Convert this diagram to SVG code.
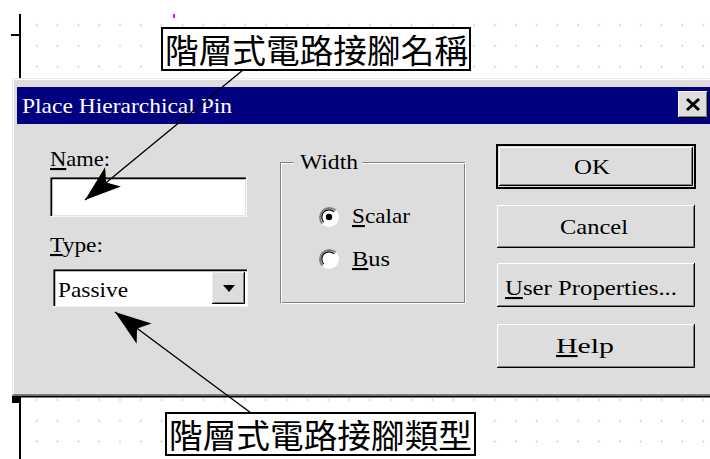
<svg xmlns="http://www.w3.org/2000/svg" width="710" height="459" viewBox="0 0 710 459">
<defs>
<pattern id="dots" x="26.28" y="14.6" width="20.83" height="20.83" patternUnits="userSpaceOnUse">
<rect x="9.65" y="9.65" width="1.5" height="1.5" fill="#b8b8b8"/>
</pattern>
<marker id="ah" markerUnits="userSpaceOnUse" markerWidth="40" markerHeight="30" refX="0" refY="0" viewBox="-30 -12 32 24" orient="auto" overflow="visible">
<path d="M0,0 L-29,-10 L-22,0 L-29,10 Z" fill="#000"/>
</marker>
<style>
.t{font-family:"Liberation Serif","Times New Roman",serif;font-size:21px;fill:#000}
.cjk{font-family:"Noto Sans CJK TC","Noto Sans CJK SC",sans-serif;font-size:33px;fill:#000}
.face{fill:#dddddd}
.hl{stroke:#ffffff;stroke-width:1;fill:none}
.sh{stroke:#000;stroke-width:1;fill:none}
.gs{stroke:#808080;stroke-width:1;fill:none}
.conn{stroke:#000;stroke-width:1.4;fill:none}
.lbl{fill:#fff;stroke:#000;stroke-width:2}
</style>
</defs>
<rect width="710" height="459" fill="#fff"/>
<g id="canvas">
<rect x="28" y="14" width="682" height="445" fill="url(#dots)"/>
<path d="M20,14 V78" stroke="#000" stroke-width="2"/>
<path d="M11,35 H20" stroke="#000" stroke-width="2"/>
<path d="M20,397 V459" stroke="#000" stroke-width="2"/>
<rect x="12" y="396" width="8" height="7" fill="#000"/>
<rect x="173" y="14" width="2" height="4" fill="#ff00ff"/>
<rect x="174" y="78" width="2" height="4" fill="#ff00ff"/>
<rect x="182" y="78" width="2" height="4" fill="#3050ff"/>
</g>
<g id="dialog">
<rect x="12" y="78" width="698" height="318" class="face"/>
<path d="M12,78.5 H710 M12.5,78 V397" stroke="#e8e8e8" fill="none"/>
<path d="M13,79.5 H710 M13.5,79 V396" class="hl"/>
<path d="M13,394.5 H710" class="gs"/>
<path d="M12,396.5 H710" stroke="#000" stroke-width="2"/>
<g id="titlebar">
<rect x="17" y="87" width="693" height="37" fill="#000080"/>
<text x="22" y="113" class="t" style="fill:#fff" textLength="210" lengthAdjust="spacingAndGlyphs">Place Hierarchical Pin</text>
<rect x="678" y="91" width="30" height="27" class="face"/>
<path d="M678.5,118 V91.5 H708" class="hl"/>
<path d="M678,117.5 H707.5 V91" class="sh"/>
<path d="M679,116.5 H706.5 V92" class="gs"/>
<path d="M687,99 L699,110 M699,99 L687,110" stroke="#000" stroke-width="3"/>
</g>
<g id="name-field">
<text x="50" y="166" class="t" textLength="60" lengthAdjust="spacingAndGlyphs"><tspan text-decoration="underline">N</tspan>ame:</text>
<rect x="50" y="177" width="197" height="40" fill="#fff"/>
<path d="M50.5,217 V177.5 H247" class="gs"/>
<path d="M51.5,216 V178.5 H246" stroke="#000" stroke-width="1.5" fill="none"/>
<path d="M50,216.5 H246.5 V177" stroke="#f4f4f4" fill="none"/>
<path d="M52,215.5 H245.5 V179" stroke="#e4e4e4" fill="none"/>
</g>
<g id="type-field">
<text x="50" y="252" class="t" textLength="53" lengthAdjust="spacingAndGlyphs"><tspan text-decoration="underline">T</tspan>ype:</text>
<rect x="53" y="269" width="195" height="38" fill="#fff"/>
<path d="M53.5,307 V269.5 H248" class="gs"/>
<path d="M54.5,306 V270.5 H247" stroke="#000" stroke-width="1.5" fill="none"/>
<path d="M53,306.5 H247.5 V269" stroke="#f4f4f4" fill="none"/>
<text x="58" y="297" class="t" textLength="70" lengthAdjust="spacingAndGlyphs">Passive</text>
<rect x="212" y="272" width="33" height="32" class="face"/>
<path d="M212.5,304 V272.5 H245" stroke="#eeeeee" fill="none"/>
<path d="M212,303.5 H244.5 V272" class="sh"/>
<path d="M213,302.5 H243.5 V273" class="gs"/>
<path d="M223,285 H235 L229,292 Z" fill="#000"/>
</g>
<g id="width-group">
<rect x="280.5" y="162.5" width="184" height="140" class="gs"/>
<rect x="281.5" y="163.5" width="184" height="140" class="hl"/>
<rect x="294" y="155" width="68" height="16" class="face"/>
<text x="300" y="169" class="t" textLength="58" lengthAdjust="spacingAndGlyphs">Width</text>
<circle cx="329" cy="217" r="10" fill="#fff"/>
<path d="M322.3,223.7 A9.5,9.5 0 0 1 335.7,210.3" stroke="#808080" stroke-width="2" fill="none"/>
<path d="M323.9,222.1 A7.2,7.2 0 0 1 334.1,211.9" stroke="#000" stroke-width="1.2" fill="none"/>
<circle cx="329" cy="217" r="3.2" fill="#000"/>
<text x="352" y="223" class="t" textLength="58" lengthAdjust="spacingAndGlyphs"><tspan text-decoration="underline">S</tspan>calar</text>
<circle cx="329" cy="259" r="10" fill="#fff"/>
<path d="M322.3,265.7 A9.5,9.5 0 0 1 335.7,252.3" stroke="#808080" stroke-width="2" fill="none"/>
<path d="M323.9,264.1 A7.2,7.2 0 0 1 334.1,253.9" stroke="#000" stroke-width="1.2" fill="none"/>
<text x="352" y="266" class="t" textLength="38" lengthAdjust="spacingAndGlyphs"><tspan text-decoration="underline">B</tspan>us</text>
</g>
<g id="btn-ok">
<rect x="497" y="145" width="198" height="43" class="face" stroke="#000" stroke-width="2"/>
<path d="M499.5,186 V147.5 H693" class="hl"/>
<path d="M499,185.5 H692.5 V147" class="sh"/>
<path d="M500,184.5 H691.5 V148" class="gs"/>
<text x="574" y="174" class="t" textLength="36" lengthAdjust="spacingAndGlyphs">OK</text>
</g>
<g id="btn-cancel">
<rect x="497" y="205" width="198" height="43" class="face"/>
<path d="M497.5,248 V205.5 H695" class="hl"/>
<path d="M497,247.5 H694.5 V205" class="sh"/>
<path d="M498,246.5 H693.5 V206" class="gs"/>
<text x="560" y="234" class="t" textLength="68" lengthAdjust="spacingAndGlyphs">Cancel</text>
</g>
<g id="btn-user">
<rect x="497" y="263" width="198" height="44" class="face"/>
<path d="M497.5,307 V263.5 H695" class="hl"/>
<path d="M497,306.5 H694.5 V263" class="sh"/>
<path d="M498,305.5 H693.5 V264" class="gs"/>
<text x="505" y="295" class="t" textLength="172" lengthAdjust="spacingAndGlyphs"><tspan text-decoration="underline">U</tspan>ser Properties...</text>
</g>
<g id="btn-help">
<rect x="497" y="324" width="198" height="44" class="face"/>
<path d="M497.5,368 V324.5 H695" class="hl"/>
<path d="M497,367.5 H694.5 V324" class="sh"/>
<path d="M498,366.5 H693.5 V325" class="gs"/>
<text x="556" y="353" class="t" textLength="58" lengthAdjust="spacingAndGlyphs"><tspan text-decoration="underline">H</tspan>elp</text>
</g>
</g>
<g id="connectors">
<path d="M243,70 L85,200" class="conn" marker-end="url(#ah)"/>
<path d="M251,413 L115,312" class="conn" marker-end="url(#ah)"/>
</g>
<g id="label-name">
<rect x="162" y="28" width="308" height="42" class="lbl"/>
<text x="165" y="63" class="cjk" textLength="303" lengthAdjust="spacingAndGlyphs">階層式電路接腳名稱</text>
</g>
<g id="label-type">
<rect x="166" y="413" width="309" height="42" class="lbl"/>
<text x="169" y="448" class="cjk" textLength="303" lengthAdjust="spacingAndGlyphs">階層式電路接腳類型</text>
</g>
</svg>
